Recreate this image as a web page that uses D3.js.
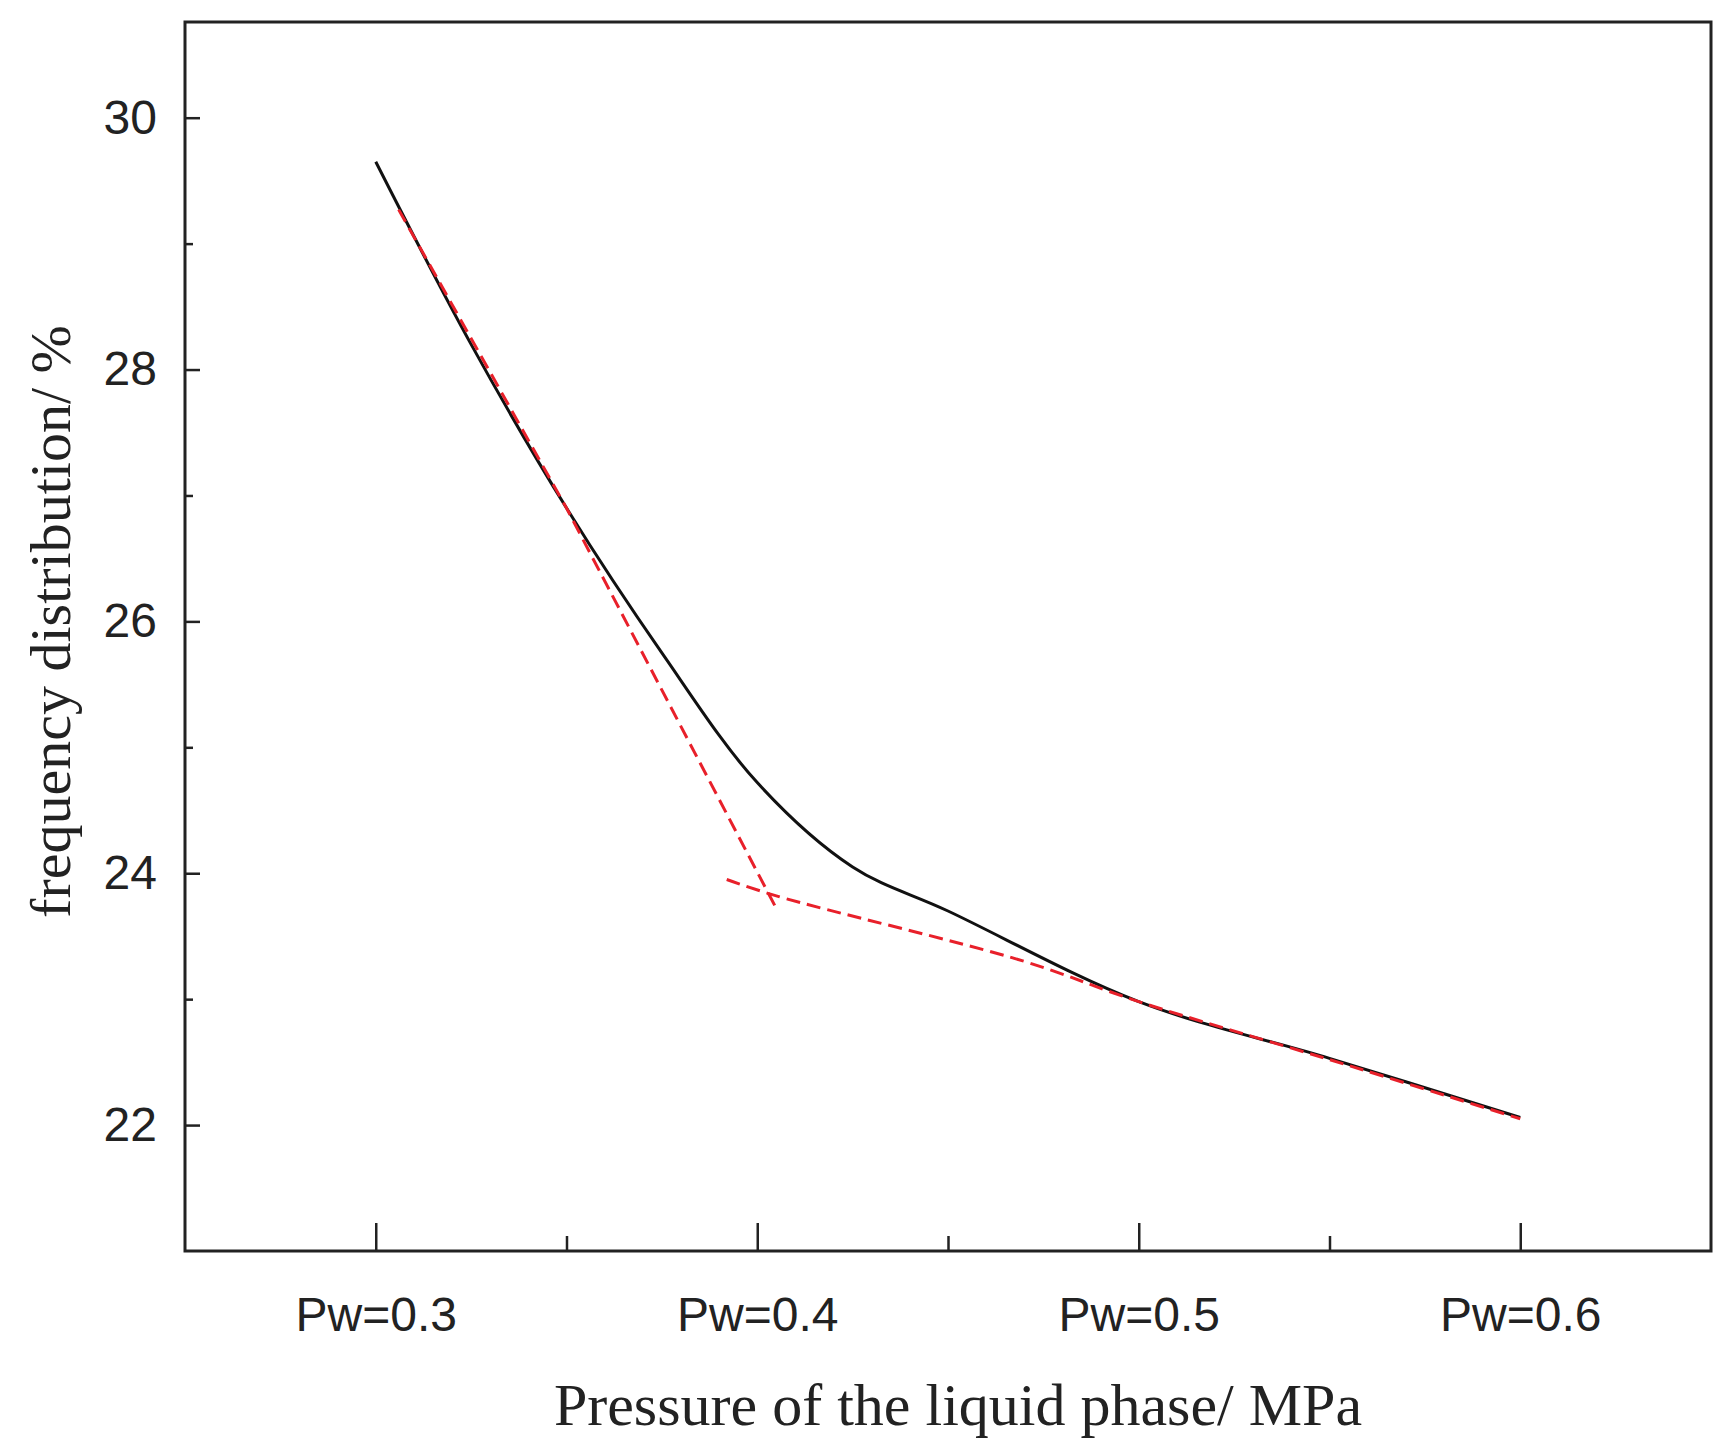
<!DOCTYPE html>
<html><head><meta charset="utf-8">
<script src="https://cdn.jsdelivr.net/npm/d3@7"></script>
<style>body{margin:0;background:#fff}</style></head>
<body><svg id="c" width="1731" height="1448"></svg>
<script>
const fitX = [0.3, 0.325, 0.35, 0.375, 0.4, 0.425, 0.45, 0.5, 0.55, 0.6];
const fitY = [29.65, 28.2, 26.9, 25.75, 24.72, 24.05, 23.7, 22.98, 22.53, 22.06];
const steepX = [0.306, 0.35, 0.405];
const steepY = [29.27, 26.9, 23.72];
const flatX = [0.392, 0.405, 0.47, 0.5, 0.55, 0.6];
const flatY = [23.95, 23.82, 23.3, 22.98, 22.52, 22.05];
const xTicks = [0.3, 0.4, 0.5, 0.6];
const xTickLabels = ['Pw=0.3', 'Pw=0.4', 'Pw=0.5', 'Pw=0.6'];
const yTicks = [22, 24, 26, 28, 30];

const svg = d3.select('#c');
const m = {l: 185, r: 1711, t: 22, b: 1251};
const x = d3.scaleLinear().domain([0.25, 0.65]).range([m.l, m.r]);
const y = d3.scaleLinear().domain([21, 30.76]).range([m.b, m.t]);

const smooth = d3.line().x(d => x(d[0])).y(d => y(d[1])).curve(d3.curveCatmullRom.alpha(0.5));
svg.append('path').attr('d', smooth(d3.zip(fitX, fitY)))
  .attr('fill', 'none').attr('stroke', '#111').attr('stroke-width', 3);
const straight = d3.line().x(d => x(d[0])).y(d => y(d[1]));
svg.append('path').attr('d', straight(d3.zip(steepX, steepY)))
  .attr('fill', 'none').attr('stroke', '#e8202a').attr('stroke-width', 3).attr('stroke-dasharray', '14,7');
svg.append('path').attr('d', smooth(d3.zip(flatX, flatY)))
  .attr('fill', 'none').attr('stroke', '#e8202a').attr('stroke-width', 3).attr('stroke-dasharray', '14,7');

svg.append('rect').attr('x', m.l).attr('y', m.t).attr('width', m.r - m.l).attr('height', m.b - m.t)
  .attr('fill', 'none').attr('stroke', '#222').attr('stroke-width', 3);

const xa = svg.append('g').attr('transform', `translate(0,${m.b})`)
  .call(d3.axisBottom(x).tickValues(xTicks).tickSize(-28).tickFormat((d, i) => xTickLabels[i]));
svg.append('g').attr('transform', `translate(0,${m.b})`)
  .call(d3.axisBottom(x).tickValues([0.35, 0.45, 0.55]).tickSize(-15).tickFormat(''));
const ya = svg.append('g').attr('transform', `translate(${m.l},0)`)
  .call(d3.axisLeft(y).tickValues(yTicks).tickSize(-15).tickFormat(d3.format('d')));
svg.append('g').attr('transform', `translate(${m.l},0)`)
  .call(d3.axisLeft(y).tickValues([23, 25, 27, 29]).tickSize(-8).tickFormat(''));
svg.selectAll('.domain').remove();
svg.selectAll('.tick line').attr('stroke', '#222').attr('stroke-width', 2.5);
svg.selectAll('.tick text').attr('font-family', 'Liberation Sans, Arial, sans-serif')
  .attr('font-size', 48).attr('fill', '#222');
xa.selectAll('.tick text').attr('dy', 0).attr('y', 80);
ya.selectAll('.tick text').attr('x', -28);

svg.append('text').attr('x', (m.l + m.r) / 2 + 10).attr('y', 1425)
  .attr('text-anchor', 'middle').attr('font-family', 'Liberation Serif, Times New Roman, serif')
  .attr('font-size', 60).attr('fill', '#222').text('Pressure of the liquid phase/ MPa');
svg.append('text').attr('transform', `translate(70,${(m.t + m.b) / 2 - 15}) rotate(-90)`)
  .attr('text-anchor', 'middle').attr('font-family', 'Liberation Serif, Times New Roman, serif')
  .attr('font-size', 58).attr('fill', '#222').text('frequency distribution/ %');
</script></body></html>
